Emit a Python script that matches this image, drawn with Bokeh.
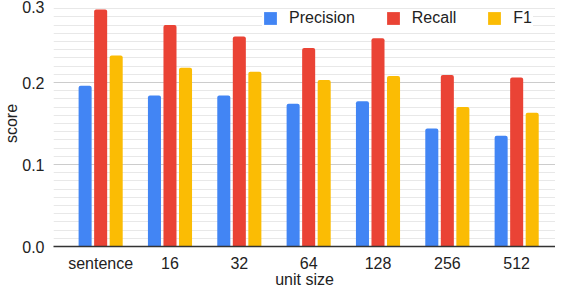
from bokeh.plotting import figure
from bokeh.models import ColumnDataSource, FixedTicker, Range1d, Legend, LegendItem
from bokeh.transform import dodge
from bokeh.embed import file_html
from bokeh.resources import INLINE

categories = ["sentence", "16", "32", "64", "128", "256", "512"]
precision = [0.196, 0.184, 0.184, 0.174, 0.177, 0.144, 0.135]
recall = [0.289, 0.270, 0.256, 0.242, 0.254, 0.209, 0.206]
f1 = [0.233, 0.218, 0.213, 0.203, 0.208, 0.170, 0.163]
y_ticks = [0.0, 0.1, 0.2, 0.3]
y_tick_labels = ["0.0", "0.1", "0.2", "0.3"]

xs = list(range(len(categories)))
src = ColumnDataSource(dict(x=xs, p=precision, r=recall, f=f1))

FONT = "Liberation Sans"
p = figure(width=555, height=290, output_backend="svg", toolbar_location=None,
           x_range=Range1d(-0.68, 6.56), y_range=Range1d(0, 0.3),
           min_border_left=0, min_border_right=0, min_border_top=0, min_border_bottom=0)
p.outline_line_color = None
p.background_fill_color = "white"
p.border_fill_color = "white"

w = 0.188
off = 0.224
colors = ["#4285F4", "#EA4335", "#FBBC04"]
rb = p.vbar(x=dodge("x", -off), top="p", width=w, source=src,
            fill_color=colors[0], line_color=None, border_radius=(2, 2, 0, 0))
rr = p.vbar(x=dodge("x", 0), top="r", width=w, source=src,
            fill_color=colors[1], line_color=None, border_radius=(2, 2, 0, 0))
rf = p.vbar(x=dodge("x", off), top="f", width=w, source=src,
            fill_color=colors[2], line_color=None, border_radius=(2, 2, 0, 0))

# axes
p.xaxis.ticker = FixedTicker(ticks=xs)
p.xaxis.major_label_overrides = {i: c for i, c in enumerate(categories)}
p.xaxis.major_tick_line_color = None
p.xaxis.major_tick_out = 0
p.xaxis.minor_tick_line_color = None
p.xaxis.minor_tick_out = 0
p.xaxis.axis_line_color = "#333333"
p.xaxis.axis_line_width = 1.5
p.xaxis.major_label_standoff = 8
p.xaxis.axis_label = "unit size"
p.xaxis.axis_label_standoff = -4
p.xgrid.grid_line_color = None

p.yaxis.ticker = FixedTicker(ticks=y_ticks, minor_ticks=[i / 100 for i in range(31)])
p.yaxis.major_label_overrides = {t: l for t, l in zip(y_ticks, y_tick_labels)}
p.yaxis.major_tick_line_color = None
p.yaxis.major_tick_out = 0
p.yaxis.minor_tick_line_color = None
p.yaxis.minor_tick_out = 0
p.yaxis.axis_line_color = None
p.yaxis.major_label_standoff = 9
p.yaxis.axis_label = "score"
p.yaxis.axis_label_standoff = -1
p.ygrid.grid_line_color = "#cccccc"
p.ygrid.minor_grid_line_color = "#e8e8e8"

for ax in (p.xaxis[0], p.yaxis[0]):
    ax.major_label_text_font = FONT
    ax.major_label_text_font_size = "16px"
    ax.major_label_text_color = "#222222"
    ax.axis_label_text_font = FONT
    ax.axis_label_text_font_size = "16px"
    ax.axis_label_text_font_style = "normal"
    ax.axis_label_text_color = "#222222"

legend = Legend(items=[LegendItem(label="Precision", renderers=[rb]),
                       LegendItem(label="Recall", renderers=[rr]),
                       LegendItem(label="F1", renderers=[rf])],
                orientation="horizontal", location=(209, 219),
                glyph_width=16, glyph_height=16, label_height=16,
                label_standoff=11, spacing=30, padding=4, margin=0,
                label_text_font=FONT, label_text_font_size="16px",
                label_text_color="#222222",
                border_line_color=None, background_fill_color="white",
                background_fill_alpha=1.0)
p.add_layout(legend)

open("out.html", "w").write(file_html(p, INLINE))
